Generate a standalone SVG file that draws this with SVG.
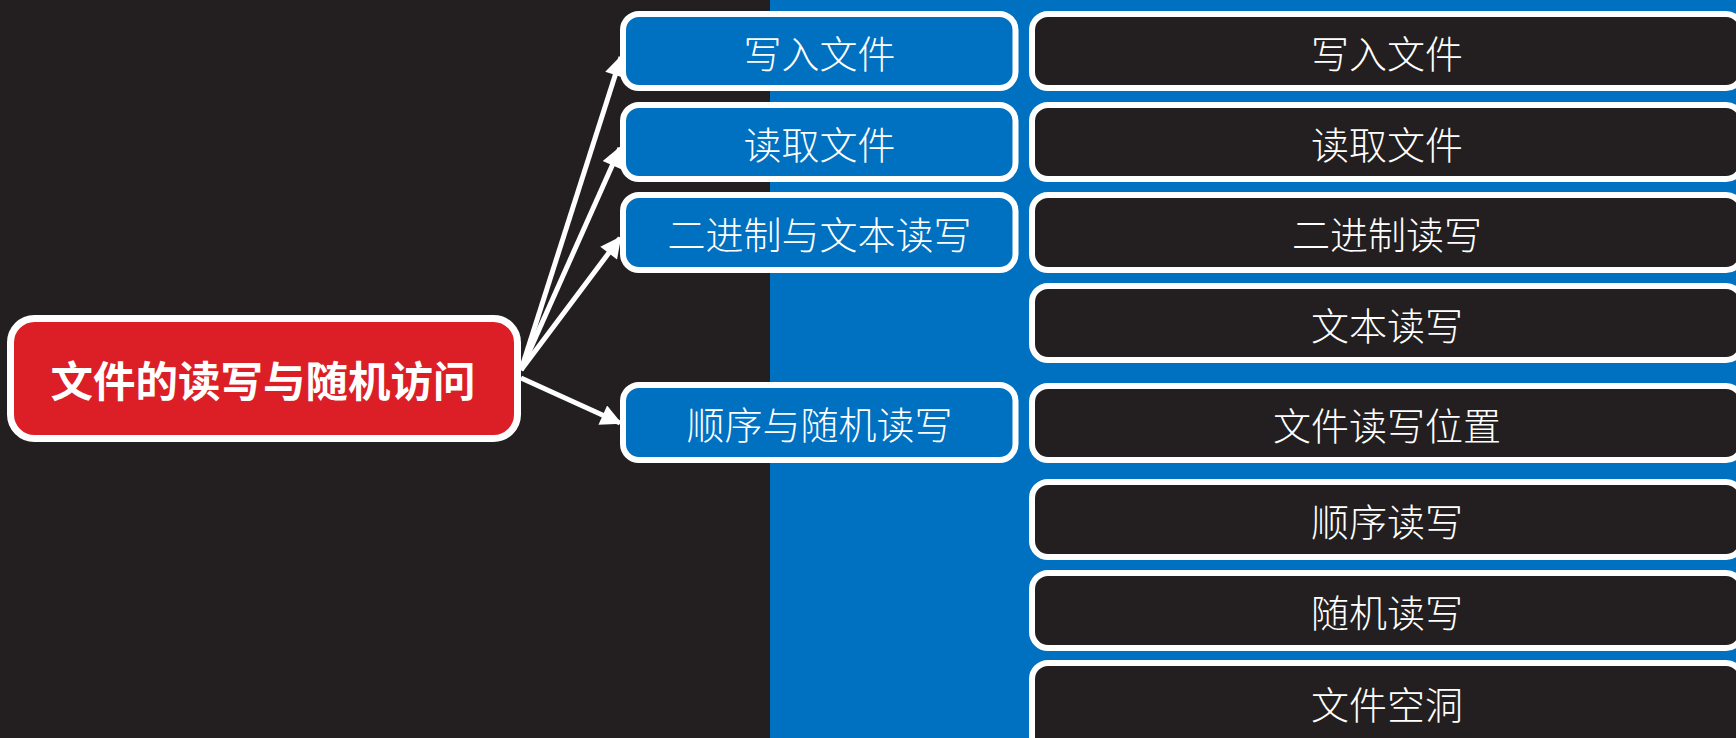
<svg xmlns="http://www.w3.org/2000/svg" width="1736" height="738" viewBox="0 0 1736 738">
<defs>
<style>
.mid{fill:#0070c0;stroke:#fff;stroke-width:6}
.leaf{fill:#231f20;stroke:#fff;stroke-width:6}
.t{font-family:"Noto Sans CJK SC","Noto Sans",sans-serif;font-size:38px;fill:#fff;text-anchor:middle;dominant-baseline:central;font-weight:300}
.root-t{font-family:"Noto Sans CJK SC","Noto Sans",sans-serif;font-size:42.5px;fill:#fff;text-anchor:middle;dominant-baseline:central;font-weight:700}
.c{stroke:#fff;stroke-width:5;fill:none;marker-end:url(#ah)}
</style>
<marker id="ah" viewBox="0 0 10 10" refX="9" refY="5" markerWidth="5" markerHeight="4.2" orient="auto" markerUnits="strokeWidth">
<path d="M0,0 L10,5 L0,10 z" fill="#fff"/>
</marker>
</defs>
<rect x="0" y="0" width="1736" height="738" fill="#231f20"/>
<rect x="770" y="0" width="966" height="738" fill="#0070c0"/>
<g id="connectors">
<line class="c" x1="521" y1="370" x2="621" y2="57"/>
<line class="c" x1="521" y1="370" x2="620" y2="148"/>
<line class="c" x1="521" y1="370" x2="620" y2="238"/>
<line class="c" x1="521" y1="378" x2="620" y2="423"/>
</g>
<g id="root">
<rect x="10.5" y="318.5" width="507" height="120" rx="24" fill="#dc1f26" stroke="#fff" stroke-width="7"/>
<text class="root-t" x="263" y="378">文件的读写与随机访问</text>
</g>
<g id="n-write">
<rect class="mid" x="623" y="14" width="392.5" height="74" rx="16"/>
<text class="t" x="819.5" y="51">写入文件</text>
</g>
<g id="n-read">
<rect class="mid" x="623" y="105" width="392.5" height="74" rx="16"/>
<text class="t" x="819.5" y="142">读取文件</text>
</g>
<g id="n-bin">
<rect class="mid" x="623" y="195" width="392.5" height="75" rx="16"/>
<text class="t" x="819.5" y="232.5">二进制与文本读写</text>
</g>
<g id="n-seq">
<rect class="mid" x="623" y="385" width="392.5" height="75" rx="16"/>
<text class="t" x="819.5" y="422.5">顺序与随机读写</text>
</g>
<g id="l-write">
<rect class="leaf" x="1032" y="14" width="710" height="74" rx="16"/>
<text class="t" x="1387" y="51">写入文件</text>
</g>
<g id="l-read">
<rect class="leaf" x="1032" y="105" width="710" height="74" rx="16"/>
<text class="t" x="1387" y="142">读取文件</text>
</g>
<g id="l-bin">
<rect class="leaf" x="1032" y="195" width="710" height="75" rx="16"/>
<text class="t" x="1387" y="232.5">二进制读写</text>
</g>
<g id="l-text">
<rect class="leaf" x="1032" y="286" width="710" height="74" rx="16"/>
<text class="t" x="1387" y="323">文本读写</text>
</g>
<g id="l-pos">
<rect class="leaf" x="1032" y="386" width="710" height="74" rx="16"/>
<text class="t" x="1387" y="423">文件读写位置</text>
</g>
<g id="l-seqrw">
<rect class="leaf" x="1032" y="482" width="710" height="75" rx="16"/>
<text class="t" x="1387" y="519.5">顺序读写</text>
</g>
<g id="l-rand">
<rect class="leaf" x="1032" y="573" width="710" height="75" rx="16"/>
<text class="t" x="1387" y="610.5">随机读写</text>
</g>
<g id="l-hole">
<rect class="leaf" x="1032" y="663" width="710" height="90" rx="16"/>
<text class="t" x="1387" y="702">文件空洞</text>
</g>
</svg>
